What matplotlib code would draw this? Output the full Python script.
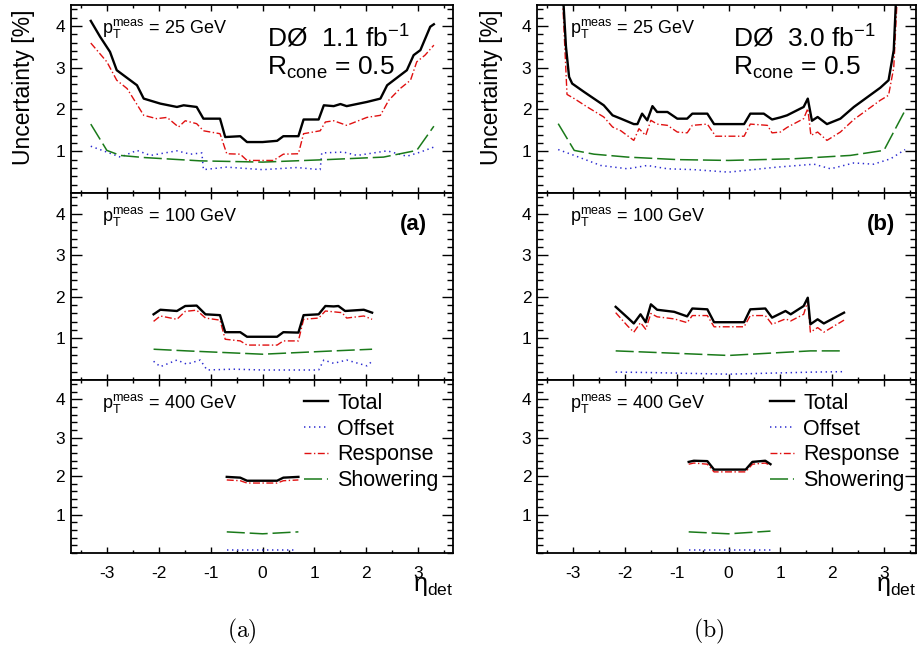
import matplotlib
matplotlib.use("Agg")
import matplotlib.pyplot as plt
from matplotlib.ticker import MultipleLocator

plt.rcParams["font.family"] = ["Liberation Sans", "DejaVu Sans"]
plt.rcParams["mathtext.fontset"] = "custom"
plt.rcParams["mathtext.rm"] = "Liberation Sans"
plt.rcParams["mathtext.it"] = "Liberation Sans:italic"
plt.rcParams["lines.scale_dashes"] = False
plt.rcParams["axes.unicode_minus"] = False

# ---- (a) 1.1 fb-1, pT = 25 GeV ----
a25_tot_eta = [-3.31, -3.13, -2.94, -2.81, -2.42, -2.29, -1.97, -1.65, -1.52, -1.27, -1.14, -0.82, -0.72, -0.43, -0.30, 0.0,
               0.28, 0.40, 0.69, 0.79, 1.08, 1.18, 1.37, 1.50, 1.62, 2.01, 2.27, 2.40, 2.78, 2.91, 3.04, 3.23, 3.30]
a25_tot = [4.12, 3.74, 3.38, 2.94, 2.58, 2.26, 2.14, 2.06, 2.10, 2.06, 1.78, 1.78, 1.34, 1.36, 1.22, 1.22,
           1.25, 1.36, 1.36, 1.76, 1.76, 2.10, 2.08, 2.13, 2.08, 2.18, 2.26, 2.58, 2.94, 3.30, 3.42, 3.98, 4.04]
a25_rsp_eta = [-3.31, -3.0, -2.81, -2.61, -2.29, -2.04, -1.84, -1.62, -1.49, -1.27, -1.14, -0.82, -0.69, -0.43, -0.30,
               0.21, 0.40, 0.69, 0.79, 1.11, 1.21, 1.37, 1.62, 2.01, 2.27, 2.43, 2.65, 2.85, 2.97, 3.13, 3.30]
a25_rsp = [3.59, 3.14, 2.70, 2.50, 1.86, 1.78, 1.81, 1.58, 1.73, 1.66, 1.49, 1.42, 0.94, 0.93, 0.78,
           0.78, 0.93, 0.94, 1.42, 1.49, 1.70, 1.73, 1.62, 1.81, 1.86, 2.22, 2.50, 2.70, 3.14, 3.30, 3.54]
a25_shw_eta = [-3.31, -3.0, -2.74, -2.29, -1.2, 0.0, 1.24, 2.33, 2.97, 3.30]
a25_shw = [1.65, 1.02, 0.90, 0.85, 0.77, 0.74, 0.80, 0.86, 1.02, 1.60]
a25_off_eta = [-3.31, -3.0, -2.74, -2.42, -2.16, -1.65, -1.39, -1.17, -1.14, -0.69, 0.0, 0.66, 1.11, 1.14,
               1.56, 1.82, 2.14, 2.40, 2.78, 3.04, 3.30]
a25_off = [1.12, 0.98, 0.86, 1.02, 0.90, 1.01, 0.93, 0.96, 0.56, 0.62, 0.56, 0.61, 0.56, 0.96,
           0.98, 0.90, 0.96, 1.01, 0.88, 0.98, 1.10]

# ---- (a) pT = 100 GeV ----
a100_tot_eta = [-2.10, -1.97, -1.65, -1.49, -1.27, -1.10, -0.82, -0.72, -0.43, -0.30, 0.28, 0.40, 0.69, 0.79,
                1.08, 1.21, 1.37, 1.46, 1.59, 1.95, 2.11]
a100_tot = [1.58, 1.69, 1.66, 1.78, 1.79, 1.58, 1.56, 1.15, 1.15, 1.04, 1.04, 1.15, 1.14, 1.56,
            1.58, 1.78, 1.77, 1.78, 1.66, 1.69, 1.62]
a100_rsp_eta = [-2.10, -1.97, -1.65, -1.49, -1.27, -1.10, -0.82, -0.72, -0.43, -0.30, 0.28, 0.40, 0.69, 0.79,
                1.08, 1.21, 1.53, 1.62, 1.95, 2.11]
a100_rsp = [1.41, 1.54, 1.46, 1.65, 1.68, 1.49, 1.44, 0.98, 0.94, 0.84, 0.84, 0.94, 0.94, 1.46,
            1.49, 1.66, 1.62, 1.49, 1.54, 1.46]
a100_shw_eta = [-2.10, -1.46, 0.0, 1.37, 2.11]
a100_shw = [0.74, 0.70, 0.62, 0.70, 0.74]
a100_off_eta = [-2.10, -1.97, -1.65, -1.46, -1.20, -1.07, -0.56, 0.0, 0.73, 1.08, 1.18, 1.37, 1.62, 2.01, 2.11]
a100_off = [0.45, 0.32, 0.48, 0.38, 0.48, 0.24, 0.26, 0.24, 0.24, 0.24, 0.48, 0.40, 0.48, 0.34, 0.45]

# ---- (a) pT = 400 GeV ----
a400_tot_eta = [-0.69, -0.43, -0.30, 0.28, 0.40, 0.69]
a400_tot = [1.98, 1.96, 1.88, 1.88, 1.96, 1.98]
a400_rsp_eta = [-0.69, -0.43, -0.30, 0.28, 0.40, 0.69]
a400_rsp = [1.90, 1.88, 1.82, 1.82, 1.88, 1.90]
a400_shw_eta = [-0.69, 0.0, 0.69]
a400_shw = [0.55, 0.50, 0.55]
a400_off_eta = [-0.69, 0.0, 0.63]
a400_off = [0.09, 0.09, 0.09]

# ---- (b) 3.0 fb-1, pT = 25 GeV ----
b25_tot_eta = [-3.30, -3.20, -3.14, -3.08, -3.02, -2.79, -2.41, -2.24, -2.08, -1.83, -1.76, -1.67, -1.57, -1.47,
               -1.38, -1.18, -0.99, -0.80, -0.70, -0.41, -0.28, 0.30, 0.42, 0.68, 0.84, 1.00, 1.13, 1.45, 1.53,
               1.61, 1.72, 1.90, 2.16, 2.42, 2.93, 3.09, 3.19, 3.24, 3.30]
b25_tot = [15.0, 4.8, 3.5, 2.78, 2.62, 2.42, 2.10, 1.86, 1.78, 1.65, 1.65, 1.90, 1.74, 2.08,
           1.94, 1.94, 1.78, 1.78, 1.90, 1.90, 1.65, 1.65, 1.90, 1.90, 1.76, 1.81, 1.86, 2.06, 2.26,
           1.73, 1.82, 1.65, 1.78, 2.06, 2.52, 2.70, 3.42, 4.8, 15.0]
b25_rsp_eta = [-3.30, -3.20, -3.12, -2.98, -2.73, -2.41, -2.24, -2.08, -1.83, -1.73, -1.60, -1.50, -1.38, -1.18,
               -0.99, -0.80, -0.70, -0.41, -0.25, 0.30, 0.42, 0.75, 0.84, 1.00, 1.13, 1.45, 1.53, 1.59, 1.72,
               1.90, 2.16, 2.42, 2.93, 3.09, 3.19, 3.25, 3.30]
b25_rsp = [15.0, 4.5, 2.36, 2.26, 2.06, 1.82, 1.58, 1.49, 1.26, 1.54, 1.38, 1.74, 1.65, 1.62,
           1.46, 1.44, 1.62, 1.65, 1.36, 1.36, 1.65, 1.62, 1.44, 1.46, 1.57, 1.78, 2.02, 1.38, 1.46,
           1.26, 1.46, 1.76, 2.22, 2.34, 3.0, 4.5, 15.0]
b25_shw_eta = [-3.29, -2.98, -2.60, -1.95, -0.99, 0.0, 1.26, 2.35, 3.0, 3.41]
b25_shw = [1.66, 1.02, 0.93, 0.86, 0.80, 0.78, 0.82, 0.90, 1.02, 1.98]
b25_off_eta = [-3.29, -2.98, -2.47, -1.95, -1.57, -1.18, -0.67, 0.0, 0.62, 0.94, 1.65, 1.97, 2.42, 2.80,
               3.13, 3.41]
b25_off = [1.04, 0.90, 0.66, 0.58, 0.66, 0.58, 0.56, 0.50, 0.58, 0.62, 0.69, 0.58, 0.72, 0.69,
           0.82, 1.04]

# ---- (b) pT = 100 GeV ----
b100_tot_eta = [-2.18, -1.95, -1.83, -1.70, -1.60, -1.50, -1.38, -1.05, -0.80, -0.70, -0.41, -0.28, 0.30, 0.42,
                0.71, 0.84, 1.10, 1.20, 1.45, 1.53, 1.58, 1.72, 1.84, 2.23]
b100_tot = [1.76, 1.50, 1.36, 1.58, 1.39, 1.82, 1.69, 1.64, 1.53, 1.72, 1.70, 1.39, 1.39, 1.70,
            1.72, 1.50, 1.66, 1.58, 1.78, 1.98, 1.34, 1.46, 1.36, 1.62]
b100_rsp_eta = [-2.18, -1.95, -1.83, -1.70, -1.60, -1.50, -1.38, -1.05, -0.80, -0.70, -0.41, -0.28, 0.30, 0.42,
                0.71, 0.84, 1.10, 1.20, 1.45, 1.53, 1.58, 1.72, 1.84, 2.23]
b100_rsp = [1.62, 1.30, 1.15, 1.38, 1.22, 1.60, 1.52, 1.47, 1.38, 1.55, 1.55, 1.28, 1.28, 1.55,
            1.55, 1.34, 1.47, 1.42, 1.58, 1.90, 1.15, 1.26, 1.15, 1.44]
b100_shw_eta = [-2.18, -1.57, 0.0, 1.58, 2.23]
b100_shw = [0.70, 0.67, 0.59, 0.70, 0.70]
b100_off_eta = [-2.18, -1.57, 0.0, 1.65, 2.23]
b100_off = [0.19, 0.18, 0.14, 0.19, 0.20]

# ---- (b) pT = 400 GeV ----
b400_tot_eta = [-0.77, -0.67, -0.41, -0.28, 0.33, 0.46, 0.71, 0.81]
b400_tot = [2.37, 2.40, 2.39, 2.17, 2.17, 2.37, 2.40, 2.31]
b400_rsp_eta = [-0.77, -0.67, -0.41, -0.28, 0.33, 0.46, 0.71, 0.81]
b400_rsp = [2.31, 2.34, 2.31, 2.11, 2.11, 2.31, 2.34, 2.28]
b400_shw_eta = [-0.77, 0.0, 0.81]
b400_shw = [0.55, 0.50, 0.57]
b400_off_eta = [-0.77, 0.81]
b400_off = [0.09, 0.09]

pt_labels = ["25", "100", "400"]

# curve styles
sty_tot = dict(color="black", lw=1.7)
sty_off = dict(color="#2a2ad0", lw=1.1, dashes=(1, 2.6))
sty_rsp = dict(color="#e01010", lw=1.0, dashes=(5, 1.8, 1, 1.8))
sty_shw = dict(color="#1a7a1a", lw=1.1, dashes=(13, 3.5))

fig = plt.figure(figsize=(9.22, 6.53), dpi=100)

col_x = [(0.0765, 0.4149), (0.5824, 0.4111)]
row_y = [(0.7044, 0.2879), (0.4181, 0.2864), (0.1531, 0.2650)]
xlims = [(-3.70, 3.67), (-3.70, 3.62)]

data = {
    (0, 0): (a25_tot_eta, a25_tot, a25_off_eta, a25_off, a25_rsp_eta, a25_rsp, a25_shw_eta, a25_shw),
    (0, 1): (a100_tot_eta, a100_tot, a100_off_eta, a100_off, a100_rsp_eta, a100_rsp, a100_shw_eta, a100_shw),
    (0, 2): (a400_tot_eta, a400_tot, a400_off_eta, a400_off, a400_rsp_eta, a400_rsp, a400_shw_eta, a400_shw),
    (1, 0): (b25_tot_eta, b25_tot, b25_off_eta, b25_off, b25_rsp_eta, b25_rsp, b25_shw_eta, b25_shw),
    (1, 1): (b100_tot_eta, b100_tot, b100_off_eta, b100_off, b100_rsp_eta, b100_rsp, b100_shw_eta, b100_shw),
    (1, 2): (b400_tot_eta, b400_tot, b400_off_eta, b400_off, b400_rsp_eta, b400_rsp, b400_shw_eta, b400_shw),
}
pix_h = [188, 187, 173]

for c in range(2):
    for r in range(3):
        x0, w = col_x[c]
        y0, h = row_y[r]
        ax = fig.add_axes([x0, y0, w, h])
        te, tv, oe, ov, re_, rv, se, sv = data[(c, r)]
        ax.plot(oe, ov, label="Offset", **sty_off)
        ax.plot(se, sv, label="Showering", **sty_shw)
        ax.plot(re_, rv, label="Response", **sty_rsp)
        ax.plot(te, tv, label="Total", **sty_tot)

        ax.set_xlim(*xlims[c])
        ax.set_ylim(0, 4.5)
        ax.set_yticks([1, 2, 3, 4])
        ax.yaxis.set_minor_locator(MultipleLocator(0.2))
        ax.set_xticks([-3, -2, -1, 0, 1, 2, 3])
        ax.xaxis.set_minor_locator(MultipleLocator(0.5))
        ax.tick_params(which="both", direction="in", top=True, right=True, labelsize=12.5, width=1.0)
        ax.tick_params(axis="y", which="major", length=8, pad=4)
        ax.tick_params(axis="y", which="minor", length=4.3)
        ax.tick_params(axis="x", which="major", length=4.5, pad=9)
        ax.tick_params(axis="x", which="minor", length=2.3)
        for s in ax.spines.values():
            s.set_linewidth(1.3)
        if r < 2:
            ax.tick_params(axis="x", labelbottom=False)

        ax.text(0.082 if c == 0 else 0.087, 1 - 28 / pix_h[r],
                r"$\mathrm{p}_{\mathrm{T}}^{\mathrm{meas}}$ = %s GeV" % pt_labels[r],
                transform=ax.transAxes, fontsize=13, va="baseline", ha="left")

        if r == 0:
            lumi = "1.1" if c == 0 else "3.0"
            dx = 0.514 if c == 0 else 0.517
            ax.text(dx, 1 - 42 / 188, r"DØ  %s fb$^{-1}$" % lumi, transform=ax.transAxes,
                    fontsize=19, va="baseline", ha="left")
            ax.text(dx, 1 - 70 / 188, r"R$_{\mathrm{cone}}$ = 0.5", transform=ax.transAxes,
                    fontsize=19, va="baseline", ha="left")
            ax.text(-0.124 if c == 0 else -0.121, 0.56, "Uncertainty [%]", transform=ax.transAxes,
                    fontsize=16.5, rotation=90, ha="center", va="center")
        if r == 1:
            ax.text(0.932 if c == 0 else 0.945, 1 - 37 / 187, "(a)" if c == 0 else "(b)",
                    transform=ax.transAxes, fontsize=16, fontweight="bold", ha="right", va="baseline")
        if r == 2:
            h_, l_ = ax.get_legend_handles_labels()
            order = [3, 0, 2, 1]
            ax.legend([h_[i] for i in order], [l_[i] for i in order], loc="upper left",
                      bbox_to_anchor=(0.61 if c == 0 else 0.615, 0.925), frameon=False, fontsize=15.5,
                      handlelength=1.1, handletextpad=0.45, labelspacing=0.22, borderpad=0,
                      borderaxespad=0)
            ax.text(1.0, -0.222, r"η$_{\mathrm{det}}$", transform=ax.transAxes, fontsize=18,
                    ha="right", va="baseline")

fig.text(0.262, 0.024, r"$\mathrm{(a)}$", math_fontfamily="cm", fontsize=17, ha="center", va="baseline")
fig.text(0.768, 0.024, r"$\mathrm{(b)}$", math_fontfamily="cm", fontsize=17, ha="center", va="baseline")

fig.savefig("out.png", dpi=100)
